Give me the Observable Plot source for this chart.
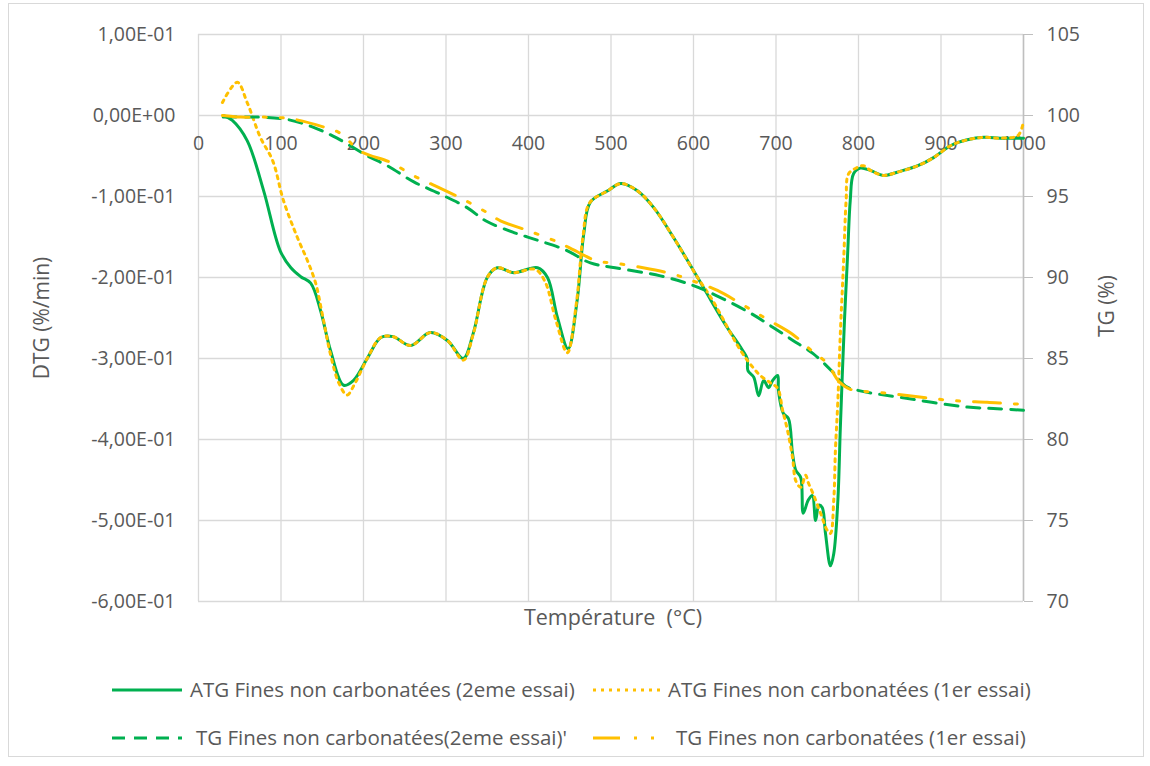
<!DOCTYPE html>
<html><head><meta charset="utf-8">
<script src="https://cdn.jsdelivr.net/npm/d3@7"></script>
<script src="https://cdn.jsdelivr.net/npm/@observablehq/plot@0.6"></script>
<style>
body{margin:0;background:#fff;font-family:"Open Sans",sans-serif;}
#frame{position:absolute;left:8px;top:3px;width:1134px;height:752px;border:1px solid #d9d9d9;}
#chart{position:absolute;left:0;top:0;}
#legend{position:absolute;left:0;top:650px;}
</style></head>
<body>
<div id="frame"></div>
<div id="chart"></div>
<svg id="legend" width="1150" height="110"></svg>
<script>
// ---- data (temperature °C, value) ----
const atg2 = [[30,0],[41,-0.006],[59,-0.031],[79,-0.093],[99,-0.167],[112,-0.188],[124,-0.199],[136,-0.207],[148,-0.241],[160,-0.290],[176,-0.333],[188,-0.327],[205,-0.299],[221,-0.274],[236,-0.273],[257,-0.284],[281,-0.268],[302,-0.278],[321,-0.300],[333,-0.269],[350,-0.200],[362,-0.188],[382,-0.194],[411,-0.188],[423,-0.200],[435,-0.249],[448,-0.288],[459,-0.228],[467,-0.146],[475,-0.107],[496,-0.093],[512,-0.084],[532,-0.093],[552,-0.114],[576,-0.151],[605,-0.200],[621,-0.228],[641,-0.262],[657,-0.286],[665,-0.300],[666,-0.315],[673,-0.323],[679,-0.346],[685,-0.327],[691,-0.336],[696,-0.327],[702,-0.321],[703,-0.340],[709,-0.368],[715,-0.374],[720,-0.417],[724,-0.438],[730,-0.447],[733,-0.491],[739,-0.475],[744,-0.469],[748,-0.500],[752,-0.481],[756,-0.484],[760,-0.516],[766,-0.556],[770,-0.541],[775,-0.475],[778,-0.385],[783,-0.253],[787,-0.167],[790,-0.105],[794,-0.072],[802,-0.065],[815,-0.068],[830,-0.074],[847,-0.070],[872,-0.062],[891,-0.052],[912,-0.037],[932,-0.030],[952,-0.027],[972,-0.028],[1000,-0.028]];
const atg1 = [[29,0.016],[47,0.041],[59,0.016],[75,-0.027],[90,-0.056],[103,-0.105],[120,-0.151],[132,-0.179],[142,-0.207],[150,-0.245],[160,-0.295],[170,-0.330],[180,-0.345],[190,-0.330],[205,-0.299],[221,-0.274],[236,-0.273],[257,-0.284],[281,-0.268],[302,-0.278],[321,-0.302],[333,-0.270],[350,-0.200],[362,-0.188],[382,-0.194],[408,-0.190],[420,-0.205],[433,-0.252],[447,-0.293],[458,-0.232],[466,-0.150],[474,-0.108],[496,-0.093],[512,-0.084],[532,-0.093],[552,-0.114],[576,-0.151],[605,-0.200],[623,-0.228],[657,-0.290],[672,-0.311],[681,-0.321],[693,-0.330],[702,-0.337],[708,-0.364],[714,-0.389],[720,-0.422],[724,-0.451],[730,-0.459],[736,-0.444],[739,-0.453],[745,-0.467],[754,-0.491],[762,-0.512],[766,-0.516],[770,-0.475],[772,-0.414],[775,-0.352],[778,-0.269],[782,-0.179],[785,-0.105],[788,-0.072],[799,-0.064],[806,-0.062],[815,-0.068],[830,-0.074],[847,-0.070],[872,-0.062],[891,-0.052],[912,-0.037],[932,-0.030],[952,-0.027],[972,-0.028],[993,-0.025],[999,-0.012]];
const tg2 = [[30,99.9],[73,99.9],[108,99.75],[138,99.3],[168,98.6],[205,97.5],[229,96.9],[261,95.9],[291,95.2],[326,94.3],[348,93.5],[381,92.8],[411,92.3],[445,91.7],[475,90.9],[505,90.6],[560,90.1],[600,89.5],[627,88.9],[669,87.8],[697,86.9],[721,86.1],[745,85.3],[770,84.1],[784,83.3],[802,83.0],[851,82.6],[932,82.0],[968,81.9],[1000,81.8]];
const tg1 = [[29,100.0],[51,99.9],[79,99.9],[112,99.8],[151,99.3],[172,98.9],[196,97.8],[233,97.1],[260,96.3],[285,95.7],[318,94.9],[350,94.0],[366,93.5],[399,92.9],[435,92.2],[451,91.8],[484,91.0],[502,90.9],[539,90.6],[576,90.2],[593,89.9],[629,89.2],[660,88.3],[690,87.4],[720,86.5],[745,85.4],[762,84.7],[776,83.6],[790,83.1],[827,82.9],[915,82.4],[956,82.3],[988,82.2],[1000,82.2]];

const tempTicks = [0,100,200,300,400,500,600,700,800,900,1000];
const dtgTicks = [-0.6,-0.5,-0.4,-0.3,-0.2,-0.1,0,0.1];
const tgTicks = [70,75,80,85,90,95,100,105];

const seriesNames = ["ATG Fines non carbonatées (2eme essai)","ATG Fines non carbonatées (1er essai)","TG Fines non carbonatées(2eme essai)'","TG Fines non carbonatées (1er essai)"];
const GREEN = "#00B050", GOLD = "#FFC000", TXT = "#595959";
const styles = [
  {stroke:GREEN, dash:null},
  {stroke:GOLD, dash:"3,5"},
  {stroke:GREEN, dash:"13,9"},
  {stroke:GOLD, dash:"27,14,3,14,3,14"}
];

const toD = tg => (tg - 100) * 0.02;
const fmtDTG = d => {
  if (Math.abs(d) < 1e-12) return "0,00E+00";
  const [m, e] = Math.abs(d).toExponential(2).split("e");
  const ex = parseInt(e, 10);
  return (d < 0 ? "-" : "") + m.replace(".", ",") + "E" + (ex < 0 ? "-" : "+") + String(Math.abs(ex)).padStart(2, "0");
};

const chart = Plot.plot({
  width: 1150, height: 650,
  marginLeft: 198, marginRight: 127, marginTop: 34, marginBottom: 49,
  x: {domain: [0, 1000], axis: null},
  y: {domain: [-0.6, 0.1], axis: null},
  style: {fontFamily: "Open Sans", fontSize: "19.5px", color: TXT, background: "transparent"},
  marks: [
    Plot.ruleY(dtgTicks, {stroke: "#d9d9d9", strokeWidth: 1.3}),
    Plot.ruleX(tempTicks, {y1: -0.6, y2: 0.1, stroke: "#d9d9d9", strokeWidth: 1.3}),
    Plot.ruleX([1000], {y1: -0.6, y2: 0.1, stroke: "#bfbfbf", strokeWidth: 1.5}),
    Plot.axisY(dtgTicks, {anchor: "left", tickSize: 0, tickPadding: 23, tickFormat: fmtDTG, label: null, fill: TXT, fontSize: 19.5}),
    Plot.axisY(tgTicks.map(toD), {anchor: "right", tickSize: 9, tickPadding: 14, stroke: "#bfbfbf", fill: TXT, fontSize: 19.5, tickFormat: d => String(Math.round(100 + d / 0.02)), label: null}),
    Plot.text(tempTicks, {x: d => d, y: 0, dy: 28, text: d => String(d), fill: TXT, fontSize: 19.5}),
    Plot.text(["DTG (%/min)"], {frameAnchor: "left", dx: -156, rotate: -90, textAnchor: "middle", text: d => d, fill: TXT, fontSize: 21}),
    Plot.text(["TG (%)"], {frameAnchor: "right", dx: 84, dy: -12, rotate: -90, textAnchor: "middle", text: d => d, fill: TXT, fontSize: 21}),
    Plot.text(["Température\u00a0\u00a0(°C)"], {frameAnchor: "bottom", dy: 23, dx: 2, text: d => d, fill: TXT, fontSize: 21.5}),
    Plot.line(atg2, {x: d => d[0], y: d => d[1], stroke: styles[0].stroke, strokeWidth: 3, curve: "catmull-rom"}),
    Plot.line(atg1, {x: d => d[0], y: d => d[1], stroke: styles[1].stroke, strokeWidth: 3, strokeDasharray: styles[1].dash, curve: "catmull-rom"}),
    Plot.line(tg2, {x: d => d[0], y: d => toD(d[1]), stroke: styles[2].stroke, strokeWidth: 3, strokeDasharray: styles[2].dash, curve: "catmull-rom"}),
    Plot.line(tg1, {x: d => d[0], y: d => toD(d[1]), stroke: styles[3].stroke, strokeWidth: 3, strokeDasharray: styles[3].dash, curve: "catmull-rom"})
  ]
});
document.getElementById("chart").appendChild(chart);

// legend
const lg = d3.select("#legend");
const pos = [{x:112,y:40,tx:190},{x:593,y:40,tx:668},{x:112,y:88,tx:196},{x:593,y:88,tx:676}];
seriesNames.forEach((name, i) => {
  const p = pos[i], s = styles[i];
  lg.append("line").attr("x1", p.x).attr("x2", p.x + 70).attr("y1", p.y).attr("y2", p.y)
    .attr("stroke", s.stroke).attr("stroke-width", 3).attr("stroke-dasharray", s.dash);
  lg.append("text").attr("x", p.tx).attr("y", p.y).attr("dy", "0.35em")
    .attr("fill", TXT).attr("font-family", "Open Sans").attr("font-size", 20.5).text(name);
});
</script>
</body></html>
